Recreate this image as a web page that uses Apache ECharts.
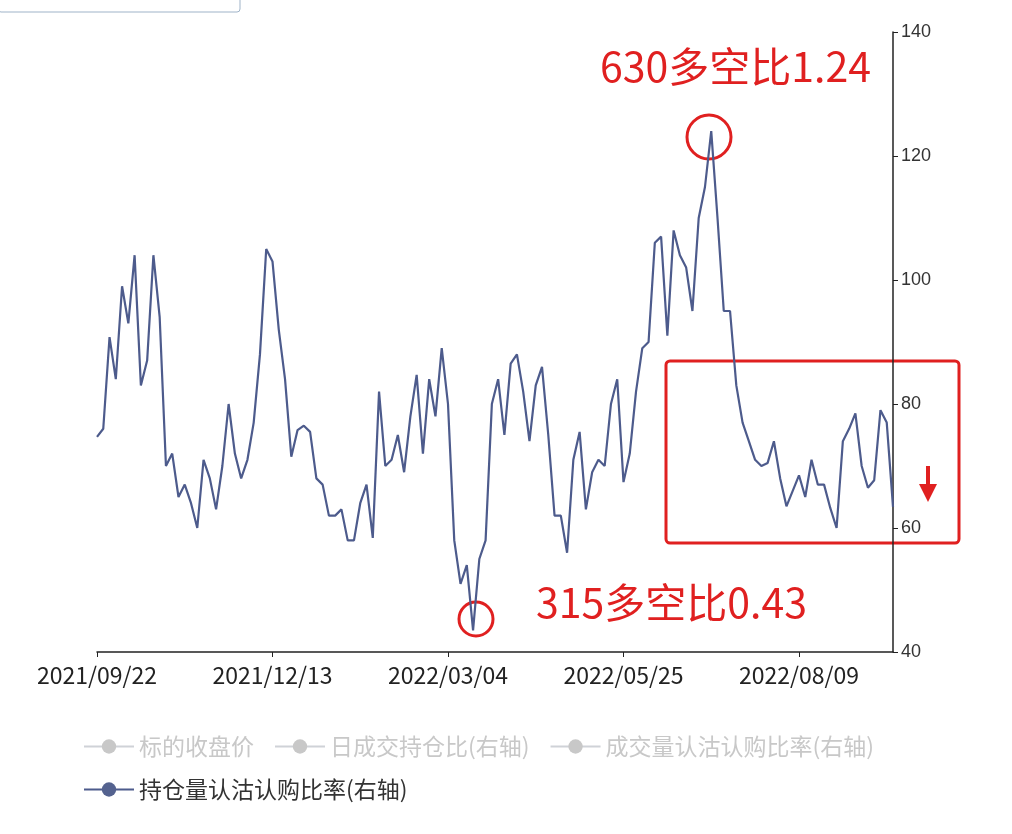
<!DOCTYPE html>
<html><head><meta charset="utf-8">
<script src="https://cdn.jsdelivr.net/npm/echarts@6/dist/echarts.min.js"></script>
<style>html,body{margin:0;padding:0;background:#fff}#c{width:1012px;height:834px}</style>
</head><body><div id="c"></div>
<script>
var tickLabels = ['2021/09/22','2021/12/13','2022/03/04','2022/05/25','2022/08/09'];
var labelStep = 28;
var ratioValues = [74.7,76,90.8,84,99,93,104,83,87,104,94,70,72,65,67,64,60,71,68,63,70,80,72,68,71,77,88,105,103,92,84,71.5,75.8,76.5,75.5,68,67,62,62,63,58,58,64,67,58.4,82,70,71,75,69,78,84.7,72,84,78,89,80,58,51,54,43.5,55,58,80,84,75,86.5,88,82,74,83,86,75,62,62,56,71,75.5,63,69,71,70,80,84,67.4,72,82,89,90,106,107,91,108,104,102,95,110,115,124,110,95,95,83,77,74,71,70,70.5,74,68,63.5,66,68.5,65,71,67,67,63.2,60,74,76,78.5,70,66.5,67.7,79,77,63.4];
var seriesNames = ['标的收盘价','日成交持仓比(右轴)','成交量认沽认购比率(右轴)','持仓量认沽认购比率(右轴)'];
var categories = ratioValues.map(function(v,i){ return i % labelStep === 0 ? tickLabels[i/labelStep] : 'd' + i; });

var chart = echarts.init(document.getElementById('c'));
var sel = {}; seriesNames.forEach(function(n,i){ sel[n] = i === 3; });
chart.setOption({
  animation:false,
  grid:{left:97,right:119,top:32,bottom:182},
  legend:{left:78,top:730,width:880,itemGap:20,itemWidth:50,itemHeight:18,
    data:seriesNames,selected:sel,inactiveColor:'#c8c8c8',
    textStyle:{fontSize:23,color:'#333',fontFamily:'Noto Sans CJK SC'}},
  xAxis:{type:'category',data:categories,boundaryGap:false,
    axisLine:{lineStyle:{color:'#222',width:1.5}},
    axisTick:{alignWithLabel:true,interval:function(i){return i%labelStep===0;},lineStyle:{color:'#222'}},
    axisLabel:{interval:function(i){return i%labelStep===0;},fontSize:23,color:'#222',margin:12,fontFamily:'Liberation Sans Narrow, Noto Sans CJK SC'},
    splitLine:{show:false}},
  yAxis:{type:'value',position:'right',min:40,max:140,interval:20,
    axisLine:{show:true,lineStyle:{color:'#222',width:1.5}},
    axisTick:{show:true,lineStyle:{color:'#222'}},
    axisLabel:{fontSize:18,color:'#333',margin:8},
    splitLine:{show:false}},
  series:seriesNames.map(function(n,i){
    return {name:n,type:'line',showSymbol:false,symbol:'circle',symbolSize:10,
      data:i===3?ratioValues:[],
      itemStyle:{color:'#54628f'},
      lineStyle:{color:'#4d5b8c',width:2.2}};
  }),
  graphic:[
    {type:'rect',shape:{x:-2,y:-10,width:242,height:22,r:3},style:{fill:'none',stroke:'#9fb3c8',lineWidth:1}},
    {type:'text',left:600,top:46,style:{text:'630多空比1.24',fill:'#e02020',font:'41px "Noto Sans CJK SC"'}},
    {type:'text',left:536,top:582,style:{text:'315多空比0.43',fill:'#e02020',font:'41px "Noto Sans CJK SC"'}},
    {type:'circle',shape:{cx:709,cy:137,r:22},style:{fill:'none',stroke:'#e02020',lineWidth:3}},
    {type:'circle',shape:{cx:476,cy:619,r:17},style:{fill:'none',stroke:'#e02020',lineWidth:3}},
    {type:'rect',shape:{x:666,y:361,width:293,height:182,r:4},style:{fill:'none',stroke:'#e02020',lineWidth:3}},
    {type:'rect',shape:{x:926,y:466,width:4,height:20},style:{fill:'#e02020'}},
    {type:'polygon',shape:{points:[[919,484],[937,484],[928,502]]},style:{fill:'#e02020'}}
  ]
});
</script></body></html>
